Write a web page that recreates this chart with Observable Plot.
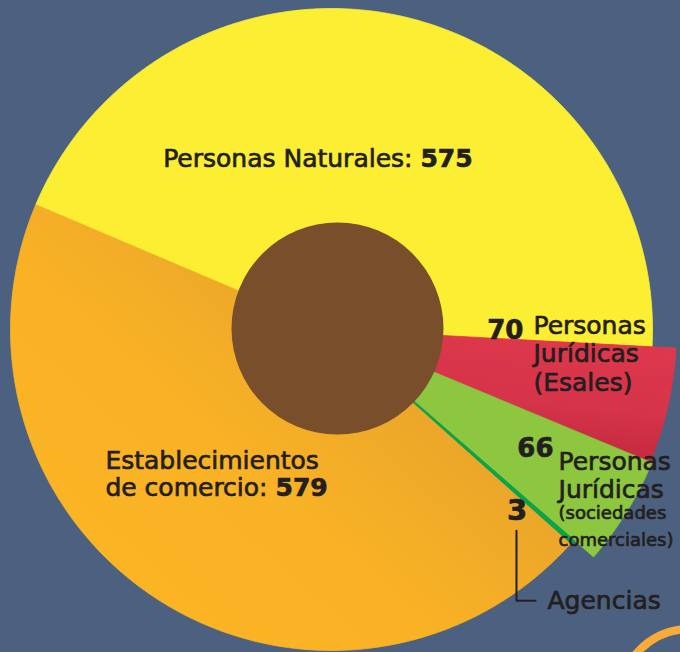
<!DOCTYPE html>
<html>
<head>
<meta charset="utf-8">
<script src="https://cdn.jsdelivr.net/npm/d3@7"></script>
<script src="https://cdn.jsdelivr.net/npm/@observablehq/plot@0.6"></script>
<style>
  html, body { margin: 0; padding: 0; background: #4b617f; }
  #wrap { position: relative; width: 680px; height: 652px; overflow: hidden; }
  #wrap svg { display: block; }
  #ring { position: absolute; left: 615px; top: 625px; width: 150px; height: 150px;
          box-sizing: border-box; border: 8px solid #f8ab38; border-radius: 50%; }
</style>
</head>
<body>
<div id="wrap"></div>
<script>
// ---- data ----
const categories = [
  "Personas Naturales",
  "Personas Jurídicas (Esales)",
  "Personas Jurídicas (sociedades comerciales)",
  "Agencias",
  "Establecimientos de comercio"
];
const values = [575, 70, 66, 3, 579];
const labelLines = [
  "Personas Naturales",
  "Personas\nJurídicas\n(Esales)",
  "Personas\nJurídicas",
  "Agencias",
  "Establecimientos\nde comercio"
];
const subLabels = ["", "", "(sociedades\ncomerciales)", "", ""];

// ---- styles / layout ----
const W = 680, H = 652;
const cx = 331, cy = 329;          // pie centre in pixels
const startDeg = -67;              // rotation of the first slice
const sliceStyle = [
  {fill: "#fcee33", r: 321},
  {fill: "url(#gRed)", r: 345},
  {fill: "#8dc63f", r: 347},
  {fill: "#0aa449", r: 322},
  {fill: "url(#gOrange)", r: 321}
];
const ink = "#231f20";
const font = "DejaVu Sans, sans-serif";

const rows = categories.map((c, i) => ({category: c, value: values[i], i}));
const a0 = startDeg * Math.PI / 180;
const arcs = d3.pie().sort(null).value(d => d.value).startAngle(a0).endAngle(a0 + 2 * Math.PI)(rows);

function slicePoints(a, r) {
  const pts = [[0, 0]];
  const n = Math.max(2, Math.ceil((a.endAngle - a.startAngle) / (Math.PI / 360)));
  for (let k = 0; k <= n; k++) {
    const t = a.startAngle + (a.endAngle - a.startAngle) * k / n;
    pts.push([r * Math.sin(t), -r * Math.cos(t)]);
  }
  pts.push([0, 0]);
  return pts;
}
function anchorOf(a, r) {
  const m = (a.startAngle + a.endAngle) / 2;
  return {x: r * Math.sin(m), y: -r * Math.cos(m)};
}

const drawOrder = [4, 0, 1, 2, 3];
const sliceMarks = drawOrder.map(i => Plot.line(slicePoints(arcs[i], sliceStyle[i].r), {
  x: d => d[0], y: d => d[1],
  fill: sliceStyle[i].fill, stroke: sliceStyle[i].fill, strokeWidth: 0.8
}));

// label anchors derived from the slices
const aY = anchorOf(arcs[0], 170);
const aO = anchorOf(arcs[4], 170);
const aR = anchorOf(arcs[1], 250);
const aG = anchorOf(arcs[2], 250);
const aA = anchorOf(arcs[3], 250);

const txt = (pt, text, o) => Plot.text([{...pt, text}], {
  x: "x", y: "y", text: "text", fill: ink, fontFamily: font, lineAnchor: "bottom",
  stroke: ink, strokeWidth: 0.7, ...o
});

const leader = [
  [aA.x - 2.6, aA.y + 36],
  [aA.x - 2.6, aA.y + 106],
  [aA.x + 16.4, aA.y + 106]
];

const chart = Plot.plot({
  width: W, height: H,
  margin: 0,
  style: {background: "#4b617f", overflow: "visible"},
  x: {domain: [-cx, W - cx], range: [0, W], axis: null},
  y: {domain: [-cy, H - cy], range: [0, H], axis: null},
  marks: [
    ...sliceMarks,
    Plot.dot([{x: 0, y: 0}], {x: "x", y: "y", r: 106, fill: "#784e2b", stroke: "none", dx: 6, dy: -1}),
    txt(aY, `${labelLines[0]}: ${values[0]}`, {fontSize: 25, textAnchor: "middle", dx: -52, dy: 3.6}),
    txt(aO, `${labelLines[4]}: ${values[4]}`, {fontSize: 25, textAnchor: "start", dx: -135, dy: 22.5, lineHeight: 1.08}),
    txt(aR, `${values[1]}`, {fontSize: 26, fontWeight: "bold", textAnchor: "end", dx: -51.8, dy: -46.5}),
    txt(aR, labelLines[1], {fontSize: 25, textAnchor: "start", dx: -41.8, dy: 5.5, lineHeight: 1.14}),
    txt(aG, `${values[2]}`, {fontSize: 26, fontWeight: "bold", textAnchor: "end", dx: 9.5, dy: -4.6}),
    txt(aG, labelLines[2], {fontSize: 25, textAnchor: "start", dx: 14.5, dy: 36.4, lineHeight: 1.12}),
    txt(aG, subLabels[2], {fontSize: 18, textAnchor: "start", dx: 14.5, dy: 84.4, lineHeight: 1.5}),
    txt(aA, `${values[3]}`, {fontSize: 29, fontWeight: "bold", textAnchor: "middle", dx: -2, dy: 24.8}),
    Plot.line(leader, {x: d => d[0], y: d => d[1], stroke: ink, strokeWidth: 2}),
    txt(aA, labelLines[3], {fontSize: 25, textAnchor: "start", dx: 28.4, dy: 113.8})
  ]
});

// gradients
const defs = d3.select(chart).insert("defs", ":first-child");
const gO = defs.append("linearGradient").attr("id", "gOrange")
  .attr("x1", 0.25).attr("y1", 0.85).attr("x2", 0.75).attr("y2", 0.4);
gO.append("stop").attr("offset", 0).attr("stop-color", "#fbb424");
gO.append("stop").attr("offset", 0.45).attr("stop-color", "#f9b225");
gO.append("stop").attr("offset", 1).attr("stop-color", "#e9a52b");
const gR = defs.append("linearGradient").attr("id", "gRed")
  .attr("x1", 0.6).attr("y1", 0).attr("x2", 0.35).attr("y2", 1);
gR.append("stop").attr("offset", 0).attr("stop-color", "#de384b");
gR.append("stop").attr("offset", 0.5).attr("stop-color", "#d6344a");
gR.append("stop").attr("offset", 1).attr("stop-color", "#bd263a");

// bold numbers after "label: "
const NS = "http://www.w3.org/2000/svg";
chart.querySelectorAll("text").forEach(t => {
  const lines = t.querySelector("tspan") ? [...t.querySelectorAll("tspan")] : [t];
  lines.forEach(el => {
    const m = el.textContent.match(/^(.*:\s)(\d+)$/);
    if (m) {
      el.textContent = m[1];
      const b = document.createElementNS(NS, "tspan");
      b.setAttribute("font-weight", "bold");
      b.textContent = m[2];
      el.appendChild(b);
    }
  });
});

const wrap = document.getElementById("wrap");
wrap.appendChild(chart);
const ring = document.createElement("div");
ring.id = "ring";
wrap.appendChild(ring);
</script>
</body>
</html>
